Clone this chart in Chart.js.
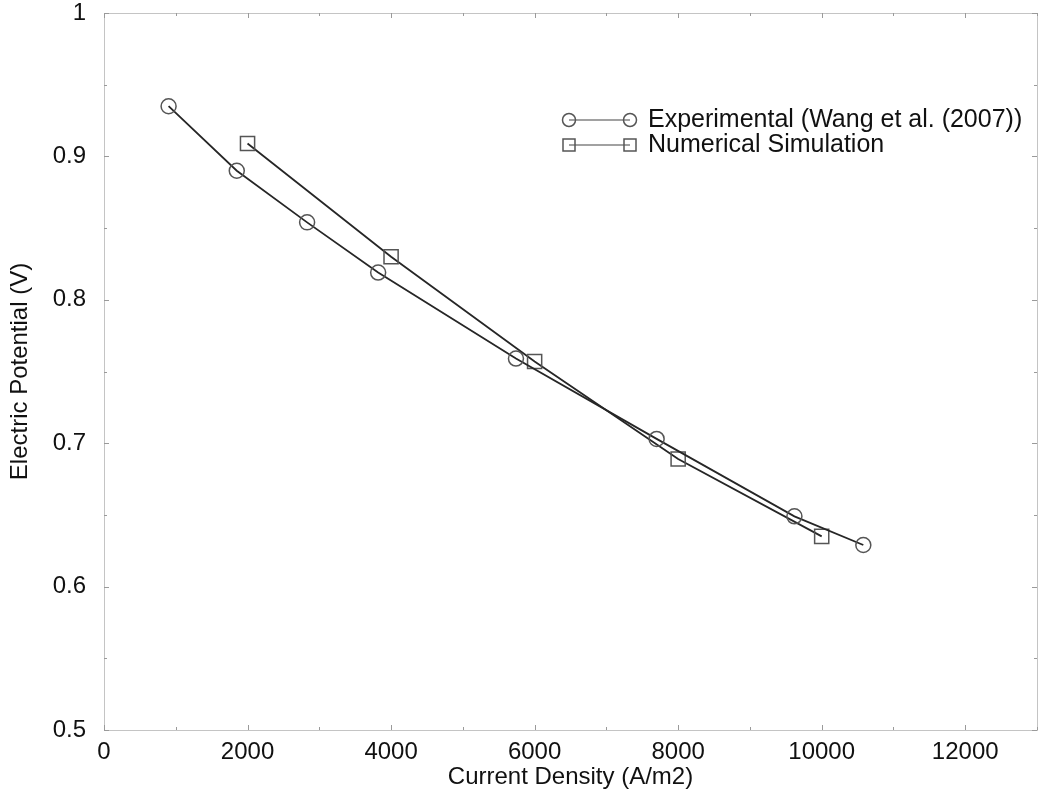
<!DOCTYPE html>
<html>
<head>
<meta charset="utf-8">
<title>Polarization curve</title>
<script src="https://cdn.jsdelivr.net/npm/chart.js@4/dist/chart.umd.min.js"></script>
<style>
    body { margin: 0; background: #fff; }
    #wrap { width: 1039px; height: 806px; }
</style>
</head>
<body>
<div id="wrap"><canvas id="polChart" width="1039" height="806"></canvas></div>
<script>
// Experimental points (Wang et al. 2007)
const expCurrent = [900, 1850, 2830, 3820, 5740, 7700, 9620, 10580];
const expPotential = [0.935, 0.890, 0.854, 0.819, 0.759, 0.703, 0.649, 0.629];

// Numerical simulation points
const simCurrent = [2000, 4000, 6000, 8000, 10000];
const simPotential = [0.909, 0.830, 0.757, 0.689, 0.635];

const seriesLabels = ["Experimental (Wang et al. (2007))", "Numerical Simulation"];

// Labelled tick positions
const xTickValues = [0, 2000, 4000, 6000, 8000, 10000, 12000];
const yTickValues = [0.5, 0.6, 0.7, 0.8, 0.9, 1];

const FONT = "'Liberation Sans', Arial, Helvetica, sans-serif";
const TEXT_COLOR = "#111";

function toPoints(xs, ys) {
    return xs.map((x, i) => ({ x: x, y: ys[i] }));
}

// Box around the plot with small inward ticks on all four sides
const frameTicks = {
    id: "frameTicks",
    afterDraw(chart) {
        const ctx = chart.ctx;
        const a = chart.chartArea;
        const xs = chart.scales.x, ys = chart.scales.y;
        ctx.save();
        ctx.strokeStyle = "#c4c4c4";
        ctx.lineWidth = 1;
        ctx.strokeRect(a.left + 0.5, a.top + 0.5, a.right - a.left, a.bottom - a.top);
        ctx.strokeStyle = "#9a9a9a";
        ctx.beginPath();
        for (let v = 0; v <= 13000; v += 1000) {
            const px = Math.round(xs.getPixelForValue(v)) + 0.5;
            const len = v % 2000 === 0 ? 5 : 3;
            ctx.moveTo(px, a.bottom); ctx.lineTo(px, a.bottom - len);
            ctx.moveTo(px, a.top); ctx.lineTo(px, a.top + len);
        }
        for (let k = 0; k <= 10; k++) {
            const py = Math.round(ys.getPixelForValue(0.5 + k * 0.05)) + 0.5;
            const len = k % 2 === 0 ? 5 : 3;
            ctx.moveTo(a.left, py); ctx.lineTo(a.left + len, py);
            ctx.moveTo(a.right, py); ctx.lineTo(a.right - len, py);
        }
        ctx.stroke();
        ctx.restore();
    }
};

// Legend: short line with a marker at each end, then the label
const sampleLegend = {
    id: "sampleLegend",
    afterDraw(chart) {
        const ctx = chart.ctx;
        const rows = [
            { y: 120, style: "circle", text: seriesLabels[0] },
            { y: 145, style: "rect", text: seriesLabels[1] }
        ];
        const x0 = 569, x1 = 630;
        ctx.save();
        rows.forEach(r => {
            ctx.strokeStyle = "#444";
            ctx.lineWidth = 1.2;
            ctx.beginPath();
            ctx.moveTo(x0, r.y);
            ctx.lineTo(x1, r.y);
            ctx.stroke();
            ctx.strokeStyle = "#555";
            ctx.lineWidth = 1.5;
            [x0, x1].forEach(cx => {
                ctx.beginPath();
                if (r.style === "circle") {
                    ctx.arc(cx, r.y, 6.5, 0, Math.PI * 2);
                } else {
                    ctx.rect(cx - 6, r.y - 6, 12, 12);
                }
                ctx.stroke();
            });
            ctx.fillStyle = TEXT_COLOR;
            ctx.font = "25px " + FONT;
            ctx.textBaseline = "middle";
            ctx.textAlign = "left";
            ctx.fillText(r.text, 648, r.y);
        });
        ctx.restore();
    }
};

const ctx = document.getElementById("polChart").getContext("2d");
const polChart = new Chart(ctx, {
    type: "scatter",
    data: {
        datasets: [
            {
                label: seriesLabels[0],
                data: toPoints(expCurrent, expPotential),
                showLine: true,
                borderColor: "#262626",
                borderWidth: 1.8,
                pointStyle: "circle",
                pointRadius: 7.5,
                pointHoverRadius: 7.5,
                pointBorderColor: "#555",
                pointBorderWidth: 1.5,
                pointBackgroundColor: "rgba(0,0,0,0)"
            },
            {
                label: seriesLabels[1],
                data: toPoints(simCurrent, simPotential),
                showLine: true,
                borderColor: "#262626",
                borderWidth: 1.8,
                pointStyle: "rect",
                pointRadius: 10,
                pointHoverRadius: 10,
                pointBorderColor: "#555",
                pointBorderWidth: 1.5,
                pointBackgroundColor: "rgba(0,0,0,0)"
            }
        ]
    },
    options: {
        responsive: false,
        animation: false,
        devicePixelRatio: 1,
        layout: { padding: { top: 13, right: 2, left: 0, bottom: 0 }, autoPadding: false },
        plugins: {
            legend: { display: false },
            tooltip: { enabled: false }
        },
        scales: {
            x: {
                type: "linear",
                min: 0,
                max: 13000,
                afterFit: s => {
                    s.height = 76;
                    s.paddingLeft = 0;
                    s.paddingRight = 0;
                },
                afterBuildTicks: s => { s.ticks = xTickValues.map(v => ({ value: v })); },
                grid: { display: false, drawTicks: false },
                border: { display: false },
                ticks: {
                    maxRotation: 0,
                    autoSkip: false,
                    padding: 8,
                    color: TEXT_COLOR,
                    font: { family: FONT, size: 24 },
                    callback: v => String(v)
                },
                title: {
                    display: true,
                    text: "Current Density (A/m2)",
                    color: TEXT_COLOR,
                    font: { family: FONT, size: 24 },
                    padding: { top: 0, bottom: 14 }
                }
            },
            y: {
                min: 0.5,
                max: 1,
                afterFit: s => {
                    s.width = 104;
                    s.paddingTop = 0;
                    s.paddingBottom = 0;
                },
                afterBuildTicks: s => { s.ticks = yTickValues.map(v => ({ value: v })); },
                grid: { display: false, drawTicks: false },
                border: { display: false },
                ticks: {
                    autoSkip: false,
                    padding: 18,
                    color: TEXT_COLOR,
                    font: { family: FONT, size: 24 },
                    callback: v => String(Number(v.toFixed(1)))
                },
                title: {
                    display: true,
                    text: "Electric Potential (V)",
                    color: TEXT_COLOR,
                    font: { family: FONT, size: 24 },
                    padding: { top: 6, bottom: 0 }
                }
            }
        }
    },
    plugins: [frameTicks, sampleLegend]
});
</script>
</body>
</html>
